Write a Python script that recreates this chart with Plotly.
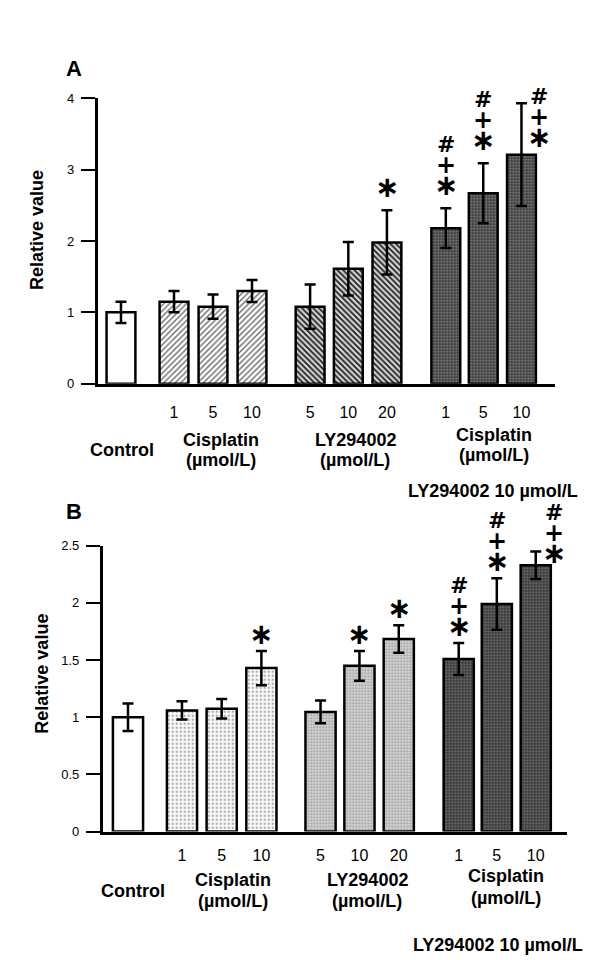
import plotly.graph_objects as go

# ---------------- data ----------------
tick_labels = ["", "1", "5", "10", "5", "10", "20", "1", "5", "10"]
groups = ["control", "cis", "cis", "cis", "ly", "ly", "ly", "combo", "combo", "combo"]

values_A = [1.00, 1.15, 1.08, 1.30, 1.08, 1.61, 1.98, 2.18, 2.67, 3.21]
errors_A = [0.15, 0.15, 0.17, 0.155, 0.31, 0.375, 0.45, 0.28, 0.42, 0.72]
signif_A = ["", "", "", "", "", "", "*", "#+*", "#+*", "#+*"]

values_B = [1.00, 1.06, 1.075, 1.43, 1.047, 1.45, 1.684, 1.51, 1.99, 2.33]
errors_B = [0.12, 0.08, 0.085, 0.15, 0.10, 0.13, 0.12, 0.14, 0.225, 0.12]
signif_B = ["", "", "", "*", "", "*", "*", "#+*", "#+*", "#+*"]

yticks_A = [0, 1, 2, 3, 4]
yticks_B = [0, 0.5, 1, 1.5, 2, 2.5]

# ---------------- layout helpers ----------------
POS = [0, 1.36, 2.36, 3.36, 4.85, 5.83, 6.82, 8.33, 9.29, 10.27]
FONT = "Liberation Sans, Arial, sans-serif"
SYMFONT = "DejaVu Sans, Liberation Sans, sans-serif"

pat_A = {
    "control": dict(color="white", pattern=None),
    "cis": dict(color="white", pattern=dict(shape="/", fgcolor="#6a6a6a", bgcolor="#ffffff", size=4, solidity=0.35)),
    "ly": dict(color="#cccccc", pattern=dict(shape="\\", fgcolor="#1e1e1e", bgcolor="#d4d4d4", size=4, solidity=0.45)),
    "combo": dict(color="#444444", pattern=dict(shape=".", fgcolor="#8a8a8a", bgcolor="#3c3c3c", size=3, solidity=0.35)),
}
pat_B = {
    "control": dict(color="white", pattern=None),
    "cis": dict(color="white", pattern=dict(shape=".", fgcolor="#aaaaaa", bgcolor="#ffffff", size=4, solidity=0.3)),
    "ly": dict(color="#cccccc", pattern=dict(shape=".", fgcolor="#9a9a9a", bgcolor="#d6d6d6", size=3, solidity=0.4)),
    "combo": dict(color="#444444", pattern=dict(shape=".", fgcolor="#7a7a7a", bgcolor="#383838", size=3, solidity=0.35)),
}

fig = go.Figure()


def add_panel(values, errors, pats, xa, ya, width):
    for g in ["control", "cis", "ly", "combo"]:
        idx = [i for i, gg in enumerate(groups) if gg == g]
        marker = dict(color=pats[g]["color"], line=dict(color="black", width=2.5))
        if pats[g]["pattern"] is not None:
            marker["pattern"] = dict(fillmode="replace", **pats[g]["pattern"])
        fig.add_trace(go.Bar(
            x=[POS[i] for i in idx], y=[values[i] for i in idx],
            width=width, marker=marker,
            error_y=dict(type="data", array=[errors[i] for i in idx],
                         color="black", thickness=2.5, width=5.5),
            xaxis=xa, yaxis=ya, showlegend=False, hoverinfo="skip"))


add_panel(values_A, errors_A, pat_A, "x", "y", 0.74)
add_panel(values_B, errors_B, pat_B, "x2", "y2", 0.76)

annotations = []
shapes = []

SYM_HTML = {
    "#": "<span style='font-size:22px'>#</span>",
    "+": "<span style='font-size:24px'>+</span>",
    "*": "<span style='font-size:29px'>\u2217</span>",
}


def sig_marks(values, errors, signif, xr, yr, above_err, beside_shift):
    last = len(values) - 1
    for i, s in enumerate(signif):
        if not s:
            continue
        text = "<b>" + "<br>".join(SYM_HTML[c] for c in s) + "</b>"
        if i == last:
            y, ys, xs = values[i], beside_shift, 18
        else:
            y, ys, xs = values[i] + errors[i], above_err, 0
        annotations.append(dict(
            x=POS[i], y=y, xref=xr, yref=yr, text=text, showarrow=False,
            xshift=xs, yshift=ys, yanchor="bottom", xanchor="center",
            font=dict(family=SYMFONT, size=16.5, color="black")))


sig_marks(values_A, errors_A, signif_A, "x", "y", 4, -1)
sig_marks(values_B, errors_B, signif_B, "x2", "y2", -2, -7)


def label(text, xi, xr, yr, xs, ys, size=18):
    annotations.append(dict(
        x=POS[xi], y=0, xref=xr, yref=yr, text=f"<b>{text}</b>",
        showarrow=False, xshift=xs, yshift=ys, yanchor="middle", xanchor="center",
        font=dict(family=FONT, size=size, color="black")))


# Panel A group labels
label("Control", 0, "x", "y", 1, -66)
label("Cisplatin", 2, "x", "y", 8, -56)
label("(µmol/L)", 2, "x", "y", 8, -76)
label("LY294002", 5, "x", "y", 7, -56)
label("(µmol/L)", 5, "x", "y", 7, -76)
label("Cisplatin", 8, "x", "y", 11, -51)
label("(µmol/L)", 8, "x", "y", 11, -71)
label("LY294002 10 µmol/L", 8, "x", "y", 10, -107)
shapes.append(dict(type="line", xref="x", yref="y", ysizemode="pixel", yanchor=0,
                   x0=POS[7] - 0.08, x1=POS[9] + 0.5, y0=-88, y1=-88,
                   line=dict(color="black", width=3)))

# Panel B group labels
label("Control", 0, "x2", "y2", 5, -59)
label("Cisplatin", 2, "x2", "y2", 11, -48)
label("(µmol/L)", 2, "x2", "y2", 11, -69)
label("LY294002", 5, "x2", "y2", 8, -48)
label("(µmol/L)", 5, "x2", "y2", 8, -69)
label("Cisplatin", 8, "x2", "y2", 9, -44)
label("(µmol/L)", 8, "x2", "y2", 9, -66)
label("LY294002 10 µmol/L", 8, "x2", "y2", 1, -113)
shapes.append(dict(type="line", xref="x2", yref="y2", ysizemode="pixel", yanchor=0,
                   x0=POS[7] - 0.04, x1=POS[9] + 0.49, y0=-82, y1=-82,
                   line=dict(color="black", width=3)))

# axis titles and panel letters
for yr, ys, xp in [("y domain", 11, 37 / 600), ("y2 domain", 15, 42 / 600)]:
    annotations.append(dict(x=xp, y=0.5, xref="paper", yref=yr, yshift=ys,
                            text="<b>Relative value</b>", textangle=-90, showarrow=False,
                            xanchor="center", yanchor="middle",
                            font=dict(family=FONT, size=18, color="black")))
for txt, yp in [("A", 1 - 62 / 960), ("B", 1 - 512 / 960)]:
    annotations.append(dict(x=73.5 / 600, y=yp, xref="paper", yref="paper",
                            text=f"<b>{txt}</b>", showarrow=False,
                            xanchor="center", yanchor="middle",
                            font=dict(family=FONT, size=22, color="black")))

xcommon = dict(showline=True, linecolor="black", linewidth=2.5, ticks="",
               tickvals=POS, ticktext=tick_labels, showgrid=False, zeroline=False,
               tickfont=dict(family=FONT, size=16, color="black"), fixedrange=True)
ycommon = dict(showline=True, linecolor="black", linewidth=2.5, ticks="outside",
               ticklen=14, tickwidth=2, tickcolor="black", showgrid=False, zeroline=False,
               tickfont=dict(family=FONT, size=13, color="black"), fixedrange=True,
               ticklabelstandoff=4)

fig.update_layout(
    width=600, height=960, margin=dict(l=0, r=0, t=0, b=0),
    paper_bgcolor="white", plot_bgcolor="white", showlegend=False, barmode="overlay",
    font=dict(family=FONT, color="black"),
    xaxis=dict(domain=[97.7 / 600, 555 / 600], range=[-0.597, 11.13], anchor="y",
               ticklabelstandoff=12, **xcommon),
    yaxis=dict(domain=[1 - 382.7 / 960, 1 - 92.7 / 960], range=[0, 4], tickvals=yticks_A,
               anchor="x", **ycommon),
    xaxis2=dict(domain=[102.7 / 600, 566.7 / 600], range=[-0.637, 11.05], anchor="y2",
                ticklabelstandoff=7, **xcommon),
    yaxis2=dict(domain=[1 - 837.7 / 960, 1 - 547.3 / 960], range=[0, 2.5], tickvals=yticks_B,
                anchor="x2", **ycommon),
    annotations=annotations, shapes=shapes,
)

fig.write_html("out.html", config={"displayModeBar": False},
               post_script="document.body.style.margin='0';document.body.style.overflow='hidden';")
